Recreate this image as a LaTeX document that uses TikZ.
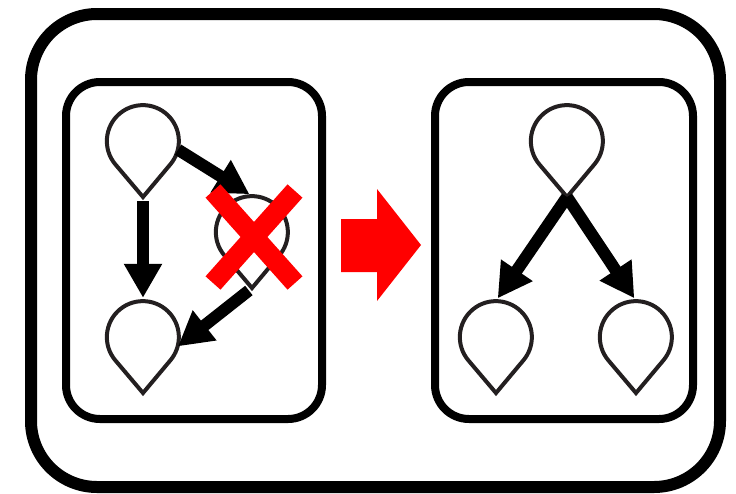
\documentclass[tikz,border=0pt]{standalone}
\usepackage{xcolor}
\usepackage{tikz}
\usetikzlibrary{arrows.meta,calc}

\definecolor{dropgray}{HTML}{231F20}
\definecolor{xred}{HTML}{FF0000}

% teardrop outline round a named node
\newcommand{\dropoutline}[1]{%
  \draw[dropline] (#1.-140) arc[start angle=140,end angle=400,radius=36]
    -- ($(#1.center)+(0,56)$) coordinate (#1-tip) -- cycle;}

\begin{document}
\begin{tikzpicture}[x=1pt,y=-1pt,
  drop/.style={circle,minimum size=72pt,inner sep=0pt},
  dropline/.style={draw=dropgray,line width=4pt,line join=miter},
  arr/.style={-{Triangle[width=36pt,length=34pt]},line width=12pt},
  panel/.style={draw,line width=8pt,rounded corners=34pt}]

  \useasboundingbox (0,0) rectangle (736,493);

  % frames
  \draw[line width=12pt,rounded corners=66pt] (31,14) rectangle (720,487);
  \draw[panel] (66,82) rectangle (322,419);
  \draw[panel] (435,82) rectangle (693,419);

  %% Left: before
  \node[drop] (d1) at (143,141) {};
  \node[drop] (d2) at (252,232) {};
  \node[drop] (d3) at (143,337) {};
  \dropoutline{d1}
  \dropoutline{d2}
  \dropoutline{d3}
  \draw[arr,shorten >=3pt] (d1.-14) -- (d2.north);
  \draw[arr,shorten <=4pt,shorten >=3pt] (d1-tip) -- (d3.north);
  \draw[arr,shorten <=4pt] (d2-tip) -- (d3.-15);
  % crossed out
  \draw[xred,line width=20pt] (254,237) +(-41,-46) -- +(41,46);
  \draw[xred,line width=20pt] (254,237) +(41,-46) -- +(-41,46);

  % red block arrow
  \fill[xred] (341,219) -- (377,219) -- (377,189) -- (421,245)
    -- (377,301) -- (377,272) -- (341,272) -- cycle;

  %% Right: after
  \node[drop] (r1) at (567,141) {};
  \node[drop] (r2) at (496,337) {};
  \node[drop] (r3) at (636,337) {};
  \dropoutline{r1}
  \dropoutline{r2}
  \dropoutline{r3}
  \draw[arr,shorten >=3pt] (r1-tip) -- (r2.north);
  \draw[arr,shorten >=3pt] (r1-tip) -- (r3.north);

\end{tikzpicture}
\end{document}
